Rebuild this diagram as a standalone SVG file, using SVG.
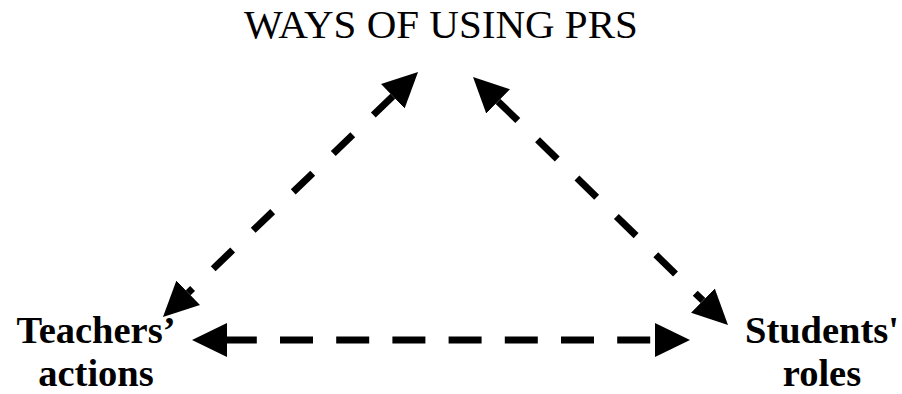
<svg xmlns="http://www.w3.org/2000/svg" width="902" height="394" viewBox="0 0 902 394">
  <style>
    .title { font-family: "Liberation Serif", "Times New Roman", serif; font-size: 41px; fill: #000; }
    .label { font-family: "Liberation Serif", "Times New Roman", serif; font-size: 38.5px; font-weight: bold; fill: #000; text-anchor: middle; }
    .conn { stroke: #000; stroke-width: 7; fill: none; stroke-linecap: butt; marker-start: url(#head); marker-end: url(#head); }
  </style>
  <defs>
    <marker id="head" markerUnits="userSpaceOnUse" markerWidth="40" markerHeight="40" viewBox="0 -20 40 40" refX="0" refY="0" orient="auto-start-reverse">
      <path d="M0,-17 L35,0 L0,17 Z" fill="#000"/>
    </marker>
  </defs>
  <rect width="902" height="394" fill="#fff"/>

  <g id="ways-of-using-prs">
    <text class="title" x="244" y="38">WAYS OF USING PRS</text>
  </g>

  <g id="teachers-actions">
    <text class="label" x="96" y="343">Teachers’</text>
    <text class="label" x="96" y="386">actions</text>
  </g>

  <g id="students-roles">
    <text class="label" x="822" y="343">Students'</text>
    <text class="label" x="822" y="386">roles</text>
  </g>

  <g id="connectors">
    <!-- PRS use <-> teachers' actions -->
    <line class="conn" x1="392.8" y1="96.3" x2="188.2" y2="292.7" stroke-dasharray="27 28.5"/>
    <!-- PRS use <-> students' roles -->
    <line class="conn" x1="498.1" y1="101.4" x2="702.9" y2="300.6" stroke-dasharray="27.5 27.5"/>
    <!-- teachers' actions <-> students' roles -->
    <line class="conn" x1="227" y1="340" x2="655" y2="340" stroke-dasharray="33 23.2" stroke-dashoffset="3.2"/>
  </g>
</svg>
